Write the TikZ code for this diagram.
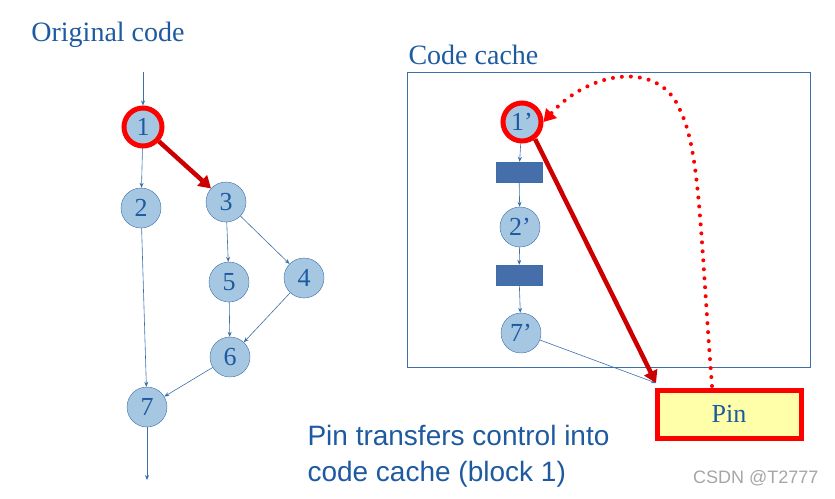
\documentclass[tikz,border=0pt]{standalone}
\usepackage{fontspec}
\setmainfont{Liberation Serif}
\newfontfamily\sansf{Liberation Sans}
\usetikzlibrary{arrows.meta}
\definecolor{tblue}{RGB}{30,90,160}
\definecolor{cfill}{RGB}{166,199,226}
\definecolor{cedge}{RGB}{60,110,170}
\definecolor{pinfill}{RGB}{255,255,170}
\definecolor{blk}{RGB}{70,110,170}
\begin{document}
\begin{tikzpicture}[x=1pt,y=-1pt,
  bb/.style={circle,draw=cedge,fill=cfill,minimum size=40pt,inner sep=0pt,font=\fontsize{26}{28}\selectfont,text=tblue},
  hot/.style={bb,draw=red,line width=5pt,minimum size=38pt},
  ln/.style={draw=cedge,line width=0.6pt,-{Stealth[length=5pt,width=4pt]}},
  big/.style={draw=red!80!black,line width=4.5pt,-{Triangle[length=12pt,width=14pt]}},
  blkr/.style={draw=cedge,fill=blk,minimum width=46pt,minimum height=20pt,inner sep=0pt},
  lbl/.style={text=tblue,font=\fontsize{28}{30}\selectfont}]
\useasboundingbox (0,0) rectangle (835,498);
\node[lbl] (t1) at (108,35) {Original code};
\node[lbl,anchor=west] (t2) at (405,55) {Code cache};
\node[hot] (n1) at (143,127) {1};
\node[bb] (n2) at (141,208) {2};
\node[bb] (n3) at (226,202) {3};
\node[bb] (n5) at (229,282) {5};
\node[bb] (n4) at (304,278) {4};
\node[bb] (n6) at (230,357) {6};
\node[bb] (n7) at (147,407) {7};
\coordinate (in) at (143,72);
\coordinate (out) at (147,480);
\draw[ln] (in) -- (n1);
\draw[ln] (n1) -- (n2);
\draw[ln] (n2) -- (n7);
\draw[ln] (n3) -- (n5);
\draw[ln] (n3) -- (n4);
\draw[ln] (n5) -- (n6);
\draw[ln] (n4) -- (n6);
\draw[ln] (n6) -- (n7);
\draw[ln] (n7) -- (out);
\draw[big] (n1) -- (n3);
\node[draw=cedge,line width=0.6pt,minimum width=403pt,minimum height=295pt,inner sep=0pt] (cc) at (608.5,219.5) {};
\node[hot] (c1) at (522,122) {1'};
\node[blkr] (b1) at (519,172) {};
\node[bb] (c2) at (520,227) {2'};
\node[blkr] (b2) at (519,275) {};
\node[bb] (c7) at (521,333) {7'};
\draw[ln] (c1) -- (b1);
\draw[ln] (b1) -- (c2);
\draw[ln] (c2) -- (b2);
\draw[ln] (b2) -- (c7);
\node[draw=red,line width=5pt,fill=pinfill,minimum width=144pt,minimum height=48pt,font=\fontsize{26}{28}\selectfont,text=tblue] (pin) at (729,414) {Pin};
\coordinate (pe) at (656,383);
\draw[ln] (c7) -- (pe);
\draw[big] (c1.south east) ++(-2,2) -- (pe);
\draw[draw=red,line width=4pt,dash pattern=on 0pt off 9pt,line cap=round,-{Triangle[length=12pt,width=14pt]}]
  (712,386) .. controls (700,230) and (700,150) .. (680,110) .. controls (660,60) and (590,70) .. (c1.east);
\node[text=tblue,font=\sansf\fontsize{28}{36}\selectfont,align=left,anchor=north west] (cap) at (304,422) {Pin transfers control into\\code cache (block 1)};
\node[text=gray!70,font=\sansf\fontsize{18}{20}\selectfont,anchor=east] (wm) at (822,478) {CSDN @T2777};
\end{tikzpicture}
\end{document}
